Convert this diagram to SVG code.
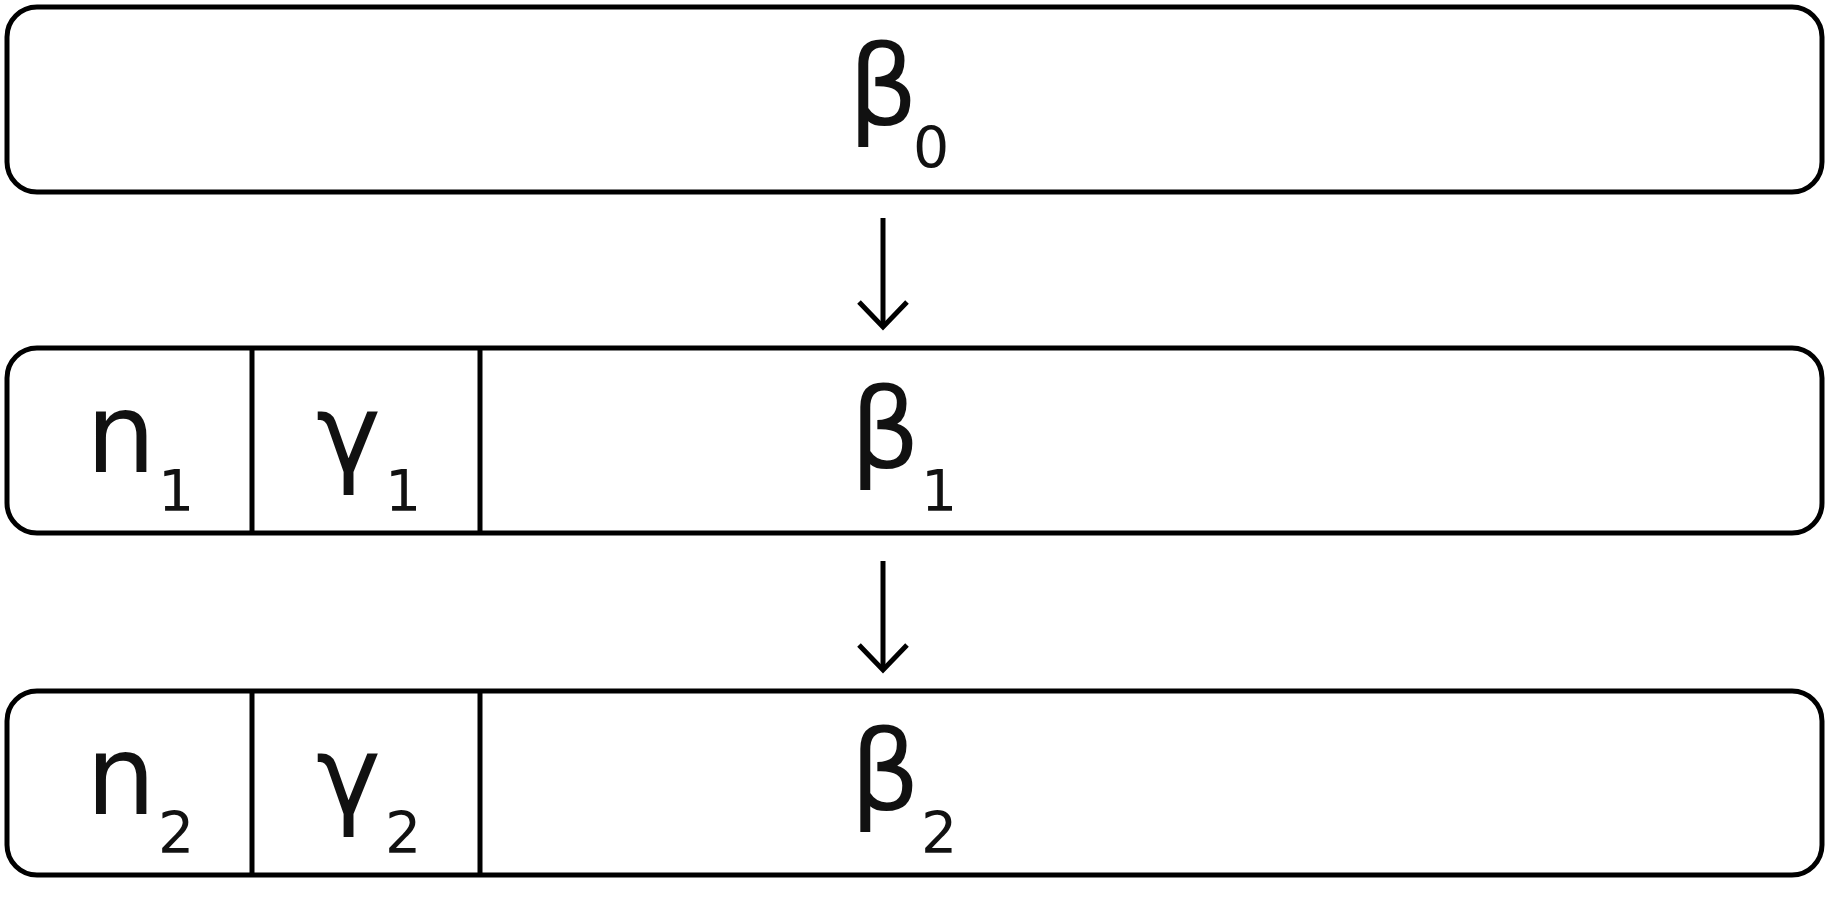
<svg xmlns="http://www.w3.org/2000/svg" width="1830" height="909" viewBox="0 0 1830 909">
<style>
.box{fill:#fff;stroke:#000;stroke-width:5}
.div{stroke:#000;stroke-width:5}
.t{font-family:"DejaVu Sans",sans-serif;font-size:110px;fill:#111}
.s{font-family:"DejaVu Sans",sans-serif;font-size:57px;fill:#111}
.c{stroke:#000;stroke-width:5;fill:none}
</style>
<rect width="1830" height="909" fill="#fff"/>
<g id="node-beta0">
<rect class="box" x="7" y="7" width="1815" height="185" rx="30"/>
<text class="t" x="848" y="124">β</text><text class="s" x="913" y="168">0</text>
</g>
<g id="node-row1">
<rect class="box" x="7" y="348" width="1815" height="185" rx="30"/>
<line class="div" x1="252" y1="348" x2="252" y2="533"/>
<line class="div" x1="480" y1="348" x2="480" y2="533"/>
<text class="t" x="86" y="472">n</text><text class="s" x="158" y="511">1</text>
<text class="t" x="316" y="472">γ</text><text class="s" x="385" y="511">1</text>
<text class="t" x="850" y="467">β</text><text class="s" x="921" y="511">1</text>
</g>
<g id="node-row2">
<rect class="box" x="7" y="691" width="1815" height="184" rx="30"/>
<line class="div" x1="252" y1="691" x2="252" y2="875"/>
<line class="div" x1="480" y1="691" x2="480" y2="875"/>
<text class="t" x="86" y="814">n</text><text class="s" x="158" y="853">2</text>
<text class="t" x="316" y="814">γ</text><text class="s" x="385" y="853">2</text>
<text class="t" x="850" y="809">β</text><text class="s" x="921" y="853">2</text>
</g>
<g id="connectors">
<line class="c" x1="883" y1="218" x2="883" y2="326"/>
<polyline class="c" points="859,302 883,327 907,302"/>
<line class="c" x1="883" y1="561" x2="883" y2="669"/>
<polyline class="c" points="859,645 883,670 907,645"/>
</g>
</svg>
